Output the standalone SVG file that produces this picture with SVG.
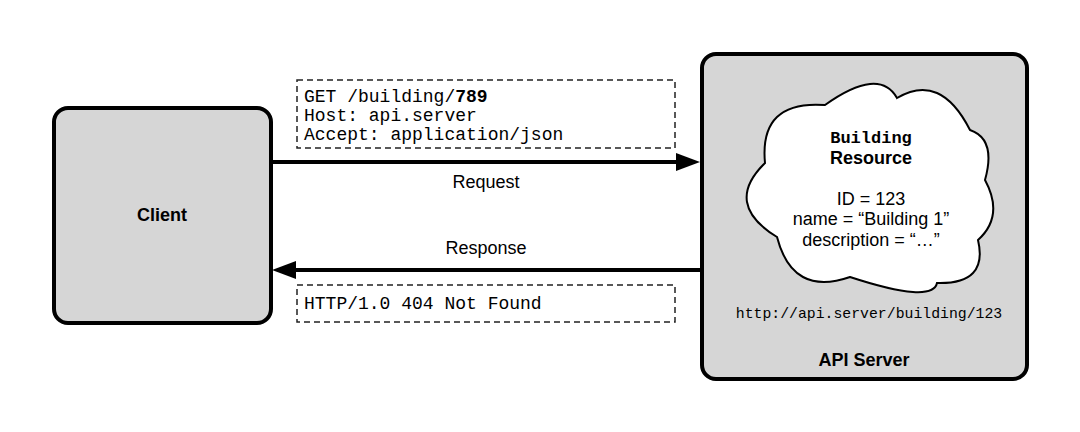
<svg xmlns="http://www.w3.org/2000/svg" width="1080" height="432" viewBox="0 0 1080 432">
<style>
.box{fill:#d6d6d6;stroke:#000;stroke-width:4}
.dash{fill:#fff;stroke:#222;stroke-width:1.5;stroke-dasharray:6 4}
.mono{font-family:"Liberation Mono",monospace;font-size:18px;fill:#000}
.sans{font-family:"Liberation Sans",Arial,sans-serif;font-size:18px;fill:#000}
.b{font-weight:bold}
.line{stroke:#000;stroke-width:4;fill:none}
</style>
<rect width="1080" height="432" fill="#fff"/>
<g id="client">
<rect class="box" x="54" y="108" width="217" height="215" rx="14"/>
<text class="sans b" x="162" y="221" text-anchor="middle">Client</text>
</g>
<g id="api-server">
<rect class="box" x="702" y="54" width="325" height="325" rx="14"/>
<text class="sans b" x="864" y="366" text-anchor="middle">API Server</text>
<text class="mono" x="869" y="318" text-anchor="middle" style="font-size:14.8px">http://api.server/building/123</text>
</g>
<g id="building-resource">
<path d="M765,163 Q759,100 825,105 Q879,66.5 897,98 Q940.5,72 970,130 Q996.5,139 985,180 Q1004.5,216 978,240 Q988.5,284.5 937,283 Q932.5,304 850,277 Q792.5,297 777,237 Q723,204 765,163 Z" fill="#fff" stroke="#000" stroke-width="2"/>
<text class="mono b" x="871" y="143" text-anchor="middle" style="font-size:17px">Building</text>
<text class="sans b" x="871" y="164" text-anchor="middle">Resource</text>
<text class="sans" x="871" y="205" text-anchor="middle">ID = 123</text>
<text class="sans" x="871" y="225" text-anchor="middle">name = “Building 1”</text>
<text class="sans" x="871" y="246" text-anchor="middle">description = “…”</text>
</g>
<g id="request-msg">
<rect class="dash" x="297" y="80" width="378" height="68"/>
<text class="mono" x="304" y="102">GET /building/<tspan class="b">789</tspan></text>
<text class="mono" x="304" y="121">Host: api.server</text>
<text class="mono" x="304" y="140">Accept: application/json</text>
</g>
<g id="response-msg">
<rect class="dash" x="297" y="285" width="378" height="37"/>
<text class="mono" x="304" y="309">HTTP/1.0 404 Not Found</text>
</g>
<g id="connectors">
<line class="line" x1="272" y1="162" x2="680" y2="162"/>
<polygon points="700,162 676,153 676,171" fill="#000"/>
<text class="sans" x="486" y="188" text-anchor="middle">Request</text>
<line class="line" x1="701" y1="270" x2="292" y2="270"/>
<polygon points="272,270 296,261 296,279" fill="#000"/>
<text class="sans" x="486" y="254" text-anchor="middle">Response</text>
</g>
</svg>
